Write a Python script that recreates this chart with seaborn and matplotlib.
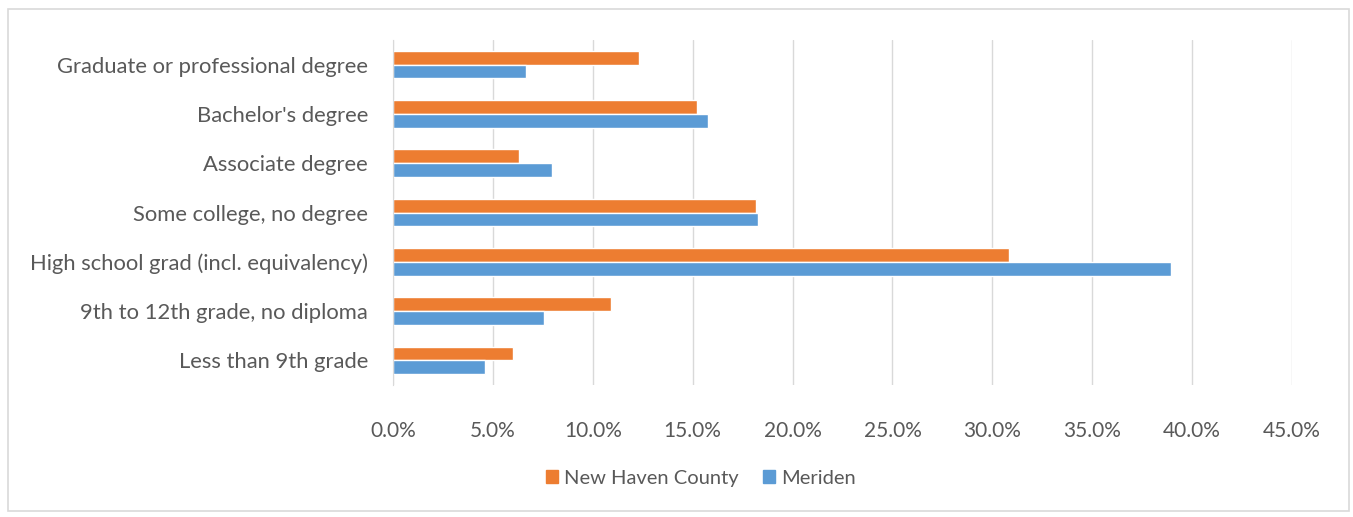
import pandas as pd
import matplotlib.pyplot as plt
import seaborn as sns
from matplotlib.patches import Rectangle
from matplotlib.ticker import PercentFormatter

# ---- data ----
categories = [
    "Graduate or professional degree",
    "Bachelor's degree",
    "Associate degree",
    "Some college, no degree",
    "High school grad (incl. equivalency)",
    "9th to 12th grade, no diploma",
    "Less than 9th grade",
]
new_haven = [12.33, 15.24, 6.29, 18.16, 30.82, 10.90, 6.00]
meriden = [6.64, 15.77, 7.96, 18.25, 38.94, 7.54, 4.62]
series = ["New Haven County", "Meriden"]
colors = ["#ED7D31", "#5B9BD5"]

df = pd.DataFrame({
    "category": categories * 2,
    "value": new_haven + meriden,
    "series": [series[0]] * len(categories) + [series[1]] * len(categories),
})

sns.set_style("white")
plt.rcParams["font.family"] = ["Lato", "DejaVu Sans"]
text_col = "#595959"

fig = plt.figure(figsize=(13.53, 5.17), dpi=100)
ax = fig.add_axes([0.2905, 0.2553, 0.6644, 0.6673])

sns.barplot(data=df, y="category", x="value", hue="series", order=categories,
            hue_order=series, palette=colors, orient="h", width=0.56,
            saturation=1, ax=ax, legend=True)

ax.set_xlim(0, 45)
ax.set_xticks(range(0, 46, 5))
ax.xaxis.set_major_formatter(PercentFormatter(decimals=1))
ax.grid(axis="x", color="#D9D9D9", linewidth=1)
ax.set_axisbelow(True)
for s in ["top", "right", "bottom"]:
    ax.spines[s].set_visible(False)
ax.spines["left"].set_color("#D9D9D9")
ax.set_xlabel("")
ax.set_ylabel("")
ax.tick_params(axis="both", length=0, labelcolor=text_col)
ax.tick_params(axis="y", labelsize=15.8, pad=18)
ax.tick_params(axis="x", labelsize=15, pad=26)

ax.get_legend().remove()
handles = [Rectangle((0, 0), 1, 1, color=c) for c in colors]
fig.legend(handles, series, loc="center", bbox_to_anchor=(0.518, 0.075), ncol=2,
           frameon=False, fontsize=14.5, labelcolor=text_col, handlelength=0.6,
           handleheight=0.6, handletextpad=0.3, columnspacing=1.2)

fig.patches.append(Rectangle((0.006, 0.012), 0.991, 0.97, transform=fig.transFigure,
                             fill=False, edgecolor="#D9D9D9", linewidth=1.2))

fig.savefig("out.png", dpi=100)
